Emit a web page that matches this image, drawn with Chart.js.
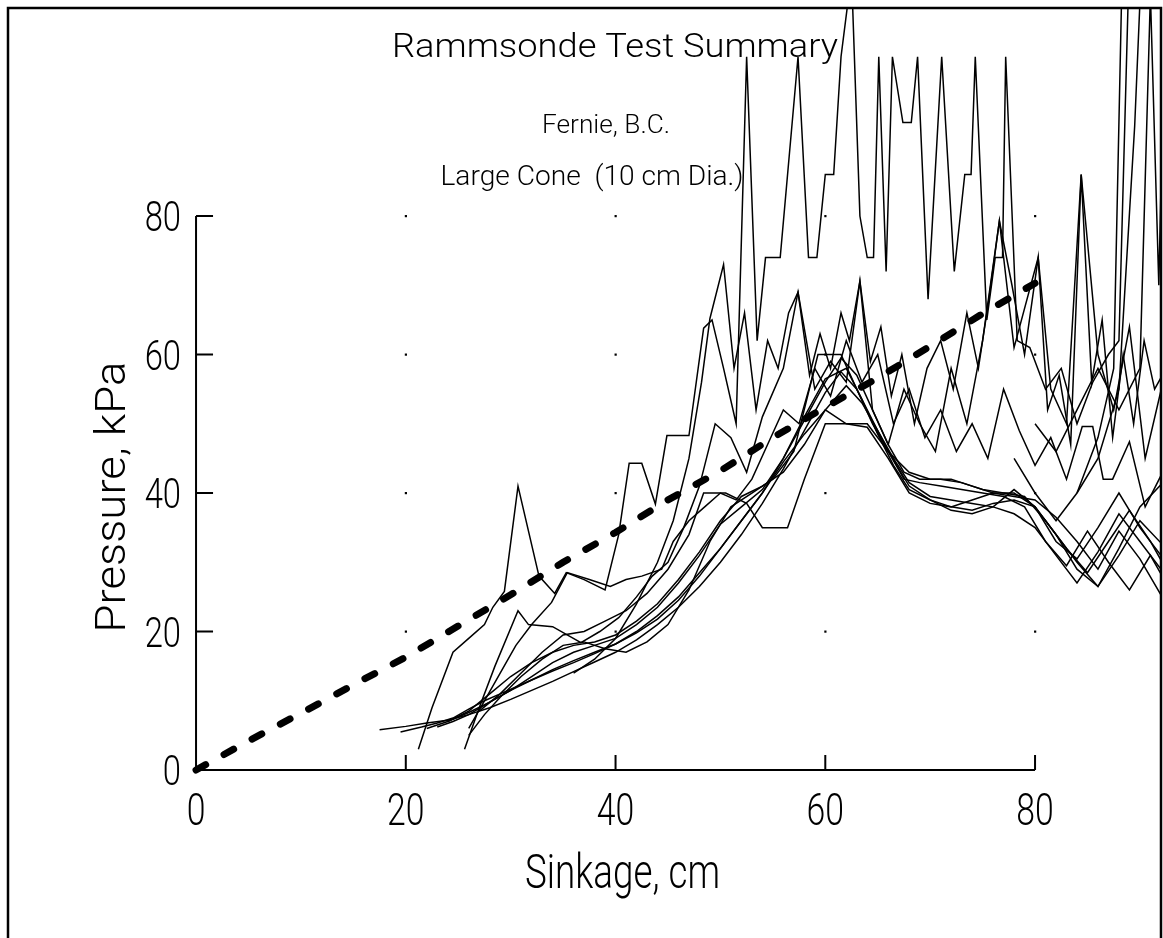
<!DOCTYPE html>
<html><head><meta charset="utf-8">
<script src="https://cdn.jsdelivr.net/npm/chart.js@4.4.1/dist/chart.umd.min.js"></script>
<style>html,body{margin:0;padding:0;background:#fff;}canvas{display:block;}</style>
</head><body>
<canvas id="c" width="1163" height="938"></canvas>
<script>
// ---- tick values ----
const xTicks = [0, 20, 40, 60, 80];
const yTicks = [0, 20, 40, 60, 80];
const gridDotX = [20, 40, 60, 80];
const gridDotY = [20, 40, 60, 80];

// ---- text ----
const titleText = "Rammsonde Test Summary";
const subtitle1 = "Fernie, B.C.";
const subtitle2 = "Large Cone  (10 cm Dia.)";
const xTitle = "Sinkage, cm";
const yTitle = "Pressure, kPa";

// ---- series: [sinkage cm, pressure kPa] ----
const meanDashed = [[0,0],[5,4.2],[10,8.2],[15,12.3],[20,16.3],[25,20.8],[30,25.3],[35,30],[40,34.3],[45,39],[50,43.2],[55,48],[60,52.4],[65,56.6],[70,61.2],[75,65.9],[80,70.3]];

const test1 = [[17.5,5.8],[20,6.3],[22,6.8],[24,7.2],[26,8],[28,9],[30,10.2],[32,11.5],[34,12.8],[36,14.2],[38,15.6],[40,17],[42,18.8],[44,21],[46,23.5],[48,26.5],[50,30],[52,34],[54,38.5],[56,43.5],[58,49],[60,54.5],[61.5,57.5],[63,55],[64.5,50.5],[66,46],[67.5,42],[69,41.5],[71,41],[73,40.5],[75,40],[77,39.5],[79,38],[81,33],[83,29.5],[85,34.5],[87,30],[89,26],[91,31],[92.5,27]];
const test2 = [[19.5,5.5],[21.5,6.2],[23,6.8],[24.5,7.5],[26,8.8],[27.5,10],[29,11],[30.5,12],[32,13],[34,14.3],[36,15.5],[38,16.8],[40,18.2],[42,20],[44,22.3],[46,25],[48,28.5],[50,32],[52,36],[54,40],[56,44.5],[58,48.5],[60,52],[62,55.5],[63.5,53],[65,49],[66.5,45],[68,41.5],[70,39.5],[72,39],[74,38.5],[76,38],[78,37],[80,35],[82,31],[84,27],[86,31.5],[88,37],[90,33],[92.5,28]];
const test3 = [[23,6.2],[24.5,7],[26,8],[28,9.8],[30,11.5],[32,13],[34,14.5],[36,15.8],[38,17],[40,18.2],[42,19.8],[44,21.8],[46,24.5],[48,28],[50,32],[52,36],[54,40],[56,45],[58,50.5],[60,56],[61.5,59.5],[63,57],[64.5,52],[66,47],[67.5,43],[69,42],[71,42],[73,41.5],[75,40.5],[77,40],[79,39.5],[81,36],[83,32],[85,28.5],[87,33],[89,37.5],[91,33],[92.5,29]];
const test4 = [[22,6],[24,7],[26,8.3],[28,9.8],[30,11.5],[32,13.5],[34,15.5],[36,17],[38,18],[40,19],[42,21],[44,23.5],[46,27],[48,31],[50,35.5],[52,38],[54,40.5],[56,45],[58,51],[60,56.5],[62,58],[63.5,53.5],[65,48.5],[66.5,44],[68,40.5],[70,39],[72,38],[74,37.5],[76,38.5],[78,39],[80,38],[82,34],[84,30],[86,26.5],[88,32],[90,38],[92.5,42]];
const test5 = [[24,7],[26,8.5],[28,11],[30,13.5],[32,15.5],[34,17],[36,18],[38,18.5],[40,19.5],[42,21.5],[44,24],[46,27.5],[48,31.5],[50,36],[52,39.5],[54,41],[56,43],[58,47],[60,52],[62,50],[64,49.5],[66,45],[68,40],[70,38.5],[72,38],[74,39],[76,40],[78,39.5],[80,39],[82,36.5],[84,33],[86,29],[88,34.5],[90,30.5],[92.5,24]];
const test6 = [[26,5],[27.5,8],[29,10.5],[31,13.5],[33,16],[35,18],[37,18.5],[39,17.5],[41,17],[43,18.5],[45,21],[47,26],[49,33],[51,38],[53,40],[55,42],[57,46],[59.3,60],[61.5,60],[63,55],[64.5,50],[66,46],[68,43],[70,42],[72,42],[74,41],[76,40],[78,40],[80,38],[82,34],[84,29],[86,26.5],[88,31],[90,36],[92.5,32]];
const test7 = [[27,8.5],[29,11],[31,14],[33,17],[35,19.5],[37,20],[39,21.5],[41,23],[43,25.5],[45,29],[47,34],[48.4,40],[50.5,40],[52.5,38.5],[54,35],[56.4,35],[58,42],[60,50],[62,50],[64,50],[66,46],[68,41],[70,39],[72,37.5],[74,37],[76,38],[78,40.5],[80,38],[82,33],[84,30.5],[86,35],[88,40],[90,35],[92.5,30]];
const test8 = [[21.2,3],[22.5,9],[24.5,17],[26,19],[27.5,21],[28.3,23.5],[29.4,25.8],[30.7,41],[32.7,28],[34.2,25.5],[35.3,28.5],[37,27.5],[39,26],[40.3,34],[41.3,44.3],[42.5,44.3],[43.8,38.4],[44.9,48.3],[47,48.3],[48.4,63.8],[49.2,65],[50.3,58],[51.5,50],[52.5,103],[53.5,62],[54.3,74],[55.7,74],[57.4,103],[58.4,74],[59.2,74],[60,86],[60.8,86],[61.5,103],[62.5,115],[63.3,80],[64,74],[64.6,74],[65.1,103],[65.8,72],[66.4,103],[67.4,93.5],[68.2,93.5],[68.8,103],[69.8,68],[71.1,103],[72.3,72],[73.3,86],[73.9,86],[74.3,103],[75.4,65],[76.2,74],[76.9,74],[77.2,103],[78.3,62],[79.5,61],[81,55],[82.5,58],[84,50],[85.5,56],[87,60],[88,62],[89,118]];
const test9 = [[25.6,3],[27,9],[28.5,15],[30.7,23],[31.7,21],[34,20.7],[36.7,18.4],[38.5,20],[40.3,22],[42,25],[43.5,28],[45,30],[46.5,35],[48,41],[49.5,50],[51,48],[52.5,43],[54,51],[56,58],[57.4,69],[59,55],[60.5,59],[62,56],[63.3,70.6],[64.5,52],[66,47],[67.5,55],[69,50],[70.5,46],[72,58],[73.5,50],[75,62],[76.6,79.3],[78,61],[80.3,74],[81.5,55],[83,50],[84.4,86],[86,60],[87.5,52],[89,64],[90.5,45],[92.5,58]];
const test10 = [[26,6],[27.5,10],[29,14],[30.5,18],[32,21],[33.9,24.2],[35.4,28.5],[37.5,27.5],[39.5,26.5],[41,27.5],[42.5,28],[44.4,29],[45.5,33],[47,36],[48.5,38],[50,40],[51.5,39],[53,42],[54.5,47],[56,52],[57.5,50],[59,58],[60.5,54],[62,62],[63.5,56],[65,60],[66.5,50],[68,55],[69.5,48],[71,52],[72.5,46],[74,50],[75.5,45],[77,55],[78.5,49],[80,44],[81.5,48],[83,42],[84.5,49.6],[85.5,49.6],[86.5,42],[87.4,42],[89,47.4],[90.5,38],[92.5,44]];
const test11 = [[36,14],[38,16],[40,19],[42,24],[44,30],[45.5,36],[47,45],[48.2,56],[49,65.2],[50.3,73],[51.3,58],[52.3,66],[53.4,52],[54.5,62],[55.5,58],[56.5,66],[57.4,69],[58.5,57],[59.5,63],[60.5,58],[61.5,66],[62.3,62],[63.3,70.6],[64.3,59],[65.3,64],[66.3,54],[67.3,60],[68.5,50],[69.7,58],[71,62],[72.2,55],[73.5,66],[74.6,58],[75.6,68],[76.6,79.3],[77.8,70],[79,60],[80.3,74],[81.2,52],[82.3,57],[83.4,47],[84.4,86],[85.4,56],[86.4,65],[87.4,48],[88.4,60],[89.4,50],[90.4,62],[91.4,55],[92.5,58]];
const test12 = [[78,45],[80,40],[82,36],[84,40],[86,45],[88,55],[89.5,93],[90.2,118]];
const test13 = [[80,50],[82,46],[84,52],[86,58],[88,52],[90,58],[91,112],[91.8,70],[92.5,118]];
const test14 = [[84,40],[86,48],[87.5,58],[88.3,115]];

const solidSeries = [test1,test2,test3,test4,test5,test6,test7,test8,test9,test10,test11,test12,test13,test14];

const toPts = arr => arr.map(p => ({x: p[0], y: p[1]}));
const datasets = solidSeries.map(s => ({
  data: toPts(s), showLine: true, pointRadius: 0, borderColor: '#000',
  borderWidth: 1.5, fill: false, tension: 0
}));
datasets.push({
  data: toPts(meanDashed), showLine: true, pointRadius: 0, borderColor: '#000',
  borderWidth: 7, borderDash: [11, 21], borderCapStyle: 'round', fill: false, tension: 0
});

const FONT = 'Roboto, "DejaVu Sans", sans-serif';
function drawText(ctx, s, x, y, size, opts) {
  opts = opts || {};
  ctx.save();
  ctx.translate(x, y);
  if (opts.rot) ctx.rotate(opts.rot);
  ctx.font = '300 ' + size + 'px ' + FONT;
  ctx.fillStyle = '#000';
  ctx.textBaseline = 'alphabetic';
  ctx.textAlign = opts.align || 'center';
  let sx = opts.scaleX || 1;
  if (opts.width) sx = opts.width / ctx.measureText(s).width;
  ctx.scale(sx, 1);
  ctx.fillText(s, 0, 0);
  ctx.restore();
}

const decor = {
  id: 'decor',
  beforeDatasetsDraw(chart) {
    const ctx = chart.ctx, xs = chart.scales.x, ys = chart.scales.y, ca = chart.chartArea;
    ctx.save();
    ctx.strokeStyle = '#000';
    // frame
    ctx.lineWidth = 2.5;
    ctx.beginPath();
    ctx.moveTo(ca.left, ca.bottom); ctx.lineTo(ca.left, ca.top);
    ctx.lineTo(ca.right, ca.top); ctx.lineTo(ca.right, ca.bottom);
    ctx.stroke();
    // axes
    const x0 = xs.getPixelForValue(xTicks[0]), x1 = xs.getPixelForValue(xTicks[xTicks.length-1]);
    const y0 = ys.getPixelForValue(yTicks[0]), y1 = ys.getPixelForValue(yTicks[yTicks.length-1]);
    ctx.lineWidth = 2;
    ctx.beginPath();
    ctx.moveTo(x0, y1); ctx.lineTo(x0, y0); ctx.lineTo(x1, y0);
    ctx.stroke();
    // inward ticks
    ctx.beginPath();
    yTicks.slice(1).forEach(v => { const p = ys.getPixelForValue(v); ctx.moveTo(x0, p); ctx.lineTo(x0 + 17, p); });
    xTicks.slice(1).forEach(v => { const p = xs.getPixelForValue(v); ctx.moveTo(p, y0); ctx.lineTo(p, y0 - 15); });
    ctx.stroke();
    // grid dots
    ctx.fillStyle = '#000';
    gridDotX.forEach(gx => gridDotY.forEach(gy => {
      const px = xs.getPixelForValue(gx), py = ys.getPixelForValue(gy);
      ctx.fillRect(px - 1, py - 1, 2.2, 2.2);
    }));
    ctx.restore();
  },
  afterDraw(chart) {
    const ctx = chart.ctx, xs = chart.scales.x, ys = chart.scales.y;
    const x0 = xs.getPixelForValue(0), y0 = ys.getPixelForValue(0);
    yTicks.forEach(v => drawText(ctx, String(v), x0 - 15, ys.getPixelForValue(v) + 15, 42, {align: 'right', scaleX: 0.78}));
    xTicks.forEach(v => drawText(ctx, String(v), xs.getPixelForValue(v), y0 + 55, 45, {scaleX: 0.75}));
    const xMid = (xs.getPixelForValue(xTicks[0]) + xs.getPixelForValue(xTicks[xTicks.length-1])) / 2;
    const yMid = (ys.getPixelForValue(yTicks[0]) + ys.getPixelForValue(yTicks[yTicks.length-1])) / 2;
    drawText(ctx, xTitle, xMid + 7, y0 + 118, 49, {width: 195});
    drawText(ctx, yTitle, x0 - 71, yMid + 4, 42, {width: 271, rot: -Math.PI / 2});
    drawText(ctx, titleText, 615, 57, 34, {width: 446});
    drawText(ctx, subtitle1, 606, 133, 25, {width: 128});
    drawText(ctx, subtitle2, 592, 185, 27, {width: 303});
  }
};

new Chart(document.getElementById('c'), {
  type: 'scatter',
  data: { datasets },
  options: {
    responsive: false, animation: false, devicePixelRatio: 1,
    layout: { padding: { left: 8, top: 8, right: 2, bottom: 0 } },
    plugins: { legend: { display: false }, tooltip: { enabled: false }, title: { display: false } },
    scales: {
      x: { type: 'linear', min: -17.93, max: 92.01, display: false },
      y: { type: 'linear', min: -24.26, max: 110.04, display: false }
    }
  },
  plugins: [decor]
});
</script>
</body></html>
